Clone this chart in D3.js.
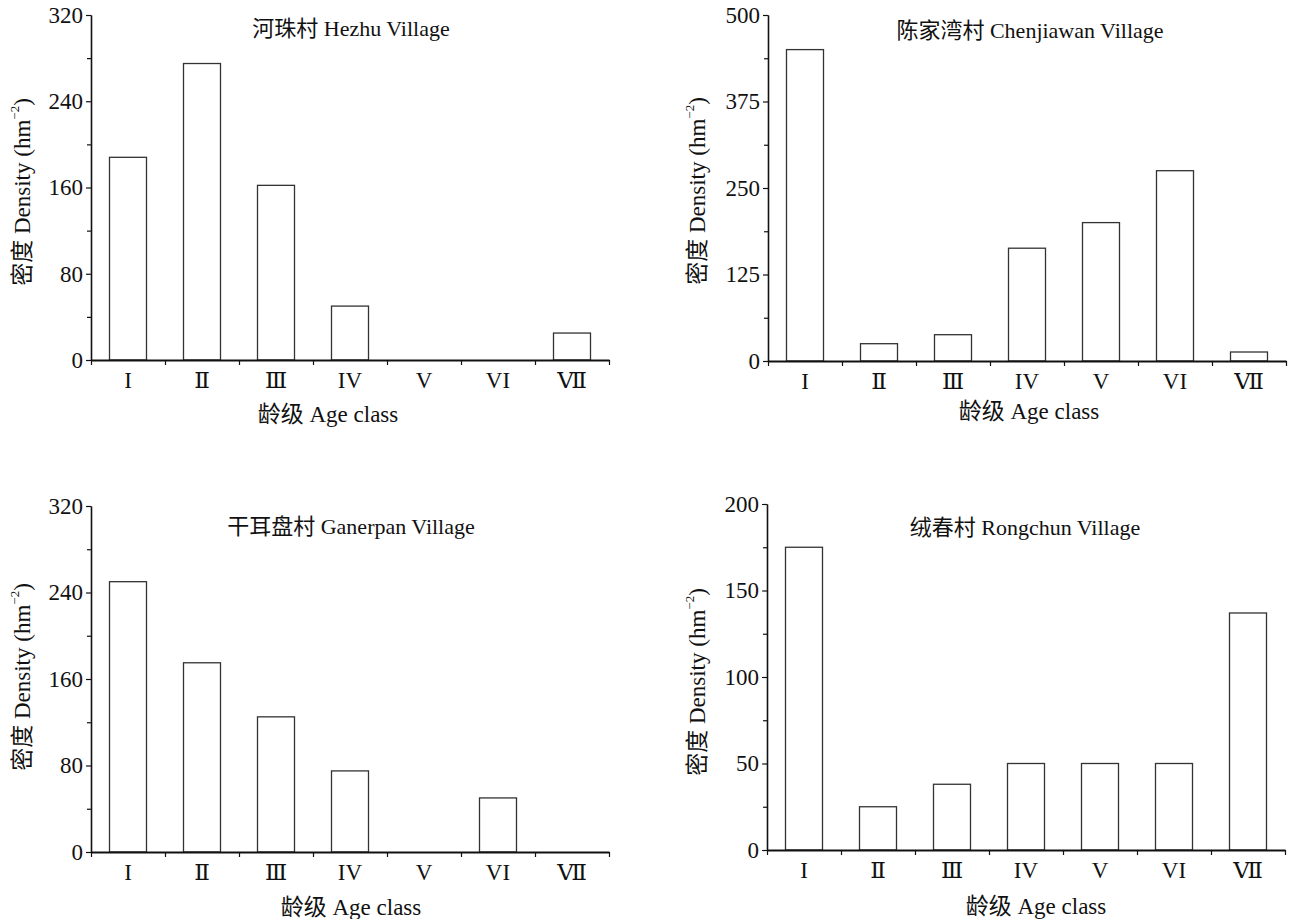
<!DOCTYPE html>
<html>
<head>
<meta charset="utf-8">
<script src="https://cdn.jsdelivr.net/npm/d3@7"></script>
<style>
  body { margin: 0; background: #fff; }
  svg { display: block; }
  text { font-family: "Liberation Serif", "DejaVu Serif", "Noto Sans CJK SC", serif; fill: #111; }
  .axis path, .axis line { stroke: #111; }
  .bar { fill: #fff; stroke: #333; stroke-width: 1.3; }
</style>
</head>
<body>
<script>
// set up SVG
var w = 1293;
var h = 919;

// data
var ageClasses = ["I", "Ⅱ", "Ⅲ", "IV", "V", "VI", "Ⅶ"];
var villages = ["河珠村 Hezhu Village", "陈家湾村 Chenjiawan Village",
                "干耳盘村 Ganerpan Village", "绒春村 Rongchun Village"];
var hezhu      = [188, 275, 162, 50, 0, 0, 25];
var chenjiawan = [450, 25, 38, 163, 200, 275, 13];
var ganerpan   = [250, 175, 125, 75, 0, 50, 0];
var rongchun   = [175, 25, 38, 50, 50, 50, 137];
var yMaxes     = [320, 500, 320, 200];
var yTickSteps = [80, 125, 80, 50];
var xTitle = "龄级 Age class";

var series = [hezhu, chenjiawan, ganerpan, rongchun];

// panel layout: axis origin x, top y, bottom y, title / label positions
var panels = [
  { x0: 91,  yT: 15,  yB: 360, titleX: 351,  titleY: 36,  xlabX: 328,  xlabY: 422, ylabX: 30,  ylabY: 192 },
  { x0: 768, yT: 15,  yB: 361, titleX: 1030, titleY: 38,  xlabX: 1029, xlabY: 419, ylabX: 705, ylabY: 191 },
  { x0: 91,  yT: 506, yB: 852, titleX: 351,  titleY: 534, xlabX: 351,  xlabY: 915, ylabX: 30,  ylabY: 677 },
  { x0: 767, yT: 504, yB: 850, titleX: 1025, titleY: 535, xlabX: 1036, xlabY: 914, ylabX: 705, ylabY: 682 }
];
var bandW = 74;

var svg = d3.select("body")
            .append("svg")
            .attr("width", w)
            .attr("height", h);

panels.forEach(function(p, k) {
    var data = series[k];
    var g = svg.append("g");

    // scales
    var scaleX = d3.scaleBand()
                   .domain(ageClasses)
                   .range([p.x0, p.x0 + bandW*ageClasses.length])
                   .paddingInner(0.5)
                   .paddingOuter(0.25);
    var scaleXB = d3.scaleLinear()
                    .domain([0, ageClasses.length])
                    .range([p.x0, p.x0 + bandW*ageClasses.length]);
    var scaleY = d3.scaleLinear()
                   .domain([0, yMaxes[k]])
                   .range([p.yB, p.yT]);

    var step = yTickSteps[k];
    var majors = d3.range(0, yMaxes[k] + 0.01, step);
    var minors = d3.range(step/2, yMaxes[k], step);

    // bars
    g.selectAll("rect")
     .data(data)
     .enter()
     .append("rect")
     .attr("class", "bar")
     .attr("x", function(d, i) { return scaleX(ageClasses[i]); })
     .attr("y", function(d) { return scaleY(d); })
     .attr("width", scaleX.bandwidth())
     .attr("height", function(d) { return p.yB - scaleY(d); })
     .style("display", function(d) { return d > 0 ? null : "none"; });

    // y-axis, major + minor ticks
    g.append("g")
     .attr("class", "axis")
     .attr("transform", "translate(" + p.x0 + ",0)")
     .call(d3.axisLeft(scaleY).tickValues(minors).tickFormat("").tickSize(4).tickSizeOuter(0))
     .selectAll("line").attr("stroke-width", 1.2);
    var ay = g.append("g")
     .attr("class", "axis")
     .attr("transform", "translate(" + p.x0 + ",0)")
     .call(d3.axisLeft(scaleY).tickValues(majors).tickFormat(d3.format("d")).tickSize(5).tickSizeOuter(0).tickPadding(3));
    ay.select("path").attr("stroke-width", 1.6);
    ay.selectAll("line").attr("stroke-width", 1.2);
    ay.selectAll("text").attr("font-size", 23).attr("fill", "#111");

    // x-axis: boundary ticks + centred labels
    var ax = g.append("g")
     .attr("class", "axis")
     .attr("transform", "translate(0," + p.yB + ")")
     .call(d3.axisBottom(scaleXB).tickValues(d3.range(0, ageClasses.length + 1)).tickFormat("").tickSize(5).tickSizeOuter(0));
    ax.select("path").attr("stroke-width", 2.2);
    ax.selectAll("line").attr("stroke-width", 1.2);

    var axl = g.append("g")
     .attr("transform", "translate(0," + p.yB + ")")
     .call(d3.axisBottom(scaleX).tickSize(0).tickPadding(12));
    axl.select("path").remove();
    axl.selectAll("text").attr("font-size", 23).attr("fill", "#111");

    // title
    g.append("text")
     .attr("x", p.titleX)
     .attr("y", p.titleY)
     .attr("text-anchor", "middle")
     .attr("font-size", 22)
     .text(villages[k]);

    // x label
    g.append("text")
     .attr("x", p.xlabX)
     .attr("y", p.xlabY)
     .attr("text-anchor", "middle")
     .attr("font-size", 23)
     .text(xTitle);

    // y label
    var yl = g.append("text")
     .attr("transform", "translate(" + p.ylabX + "," + p.ylabY + ") rotate(-90)")
     .attr("text-anchor", "middle")
     .attr("font-size", 23);
    yl.append("tspan").text("密度 Density (hm");
    yl.append("tspan").attr("font-size", 13).attr("dy", -11).text("−2");
    yl.append("tspan").attr("dy", 11).text(")");
});
</script>
</body>
</html>
